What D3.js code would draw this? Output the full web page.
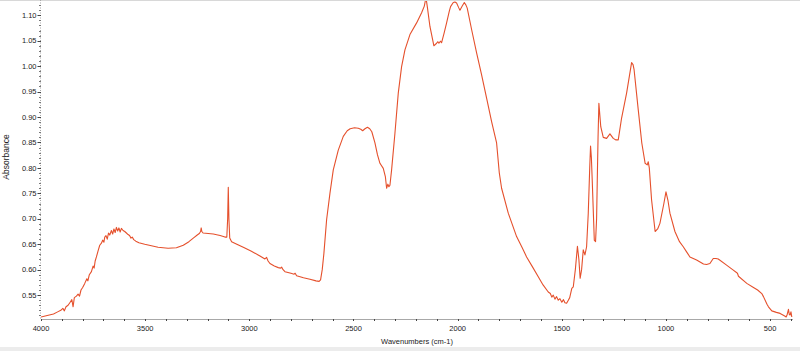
<!DOCTYPE html>
<html><head><meta charset="utf-8">
<script src="https://cdn.jsdelivr.net/npm/d3@7"></script>
<style>body{margin:0;background:#fff}svg{display:block}</style>
</head><body>
<svg id="c" width="800" height="351"></svg>
<script>
const wavenumbers = [4000,3980,3960,3940,3920,3905,3895,3888,3880,3870,3860,3852,3846,3840,3830,3822,3815,3808,3800,3790,3780,3775,3768,3758,3750,3745,3740,3734,3726,3718,3710,3704,3698,3694,3688,3682,3676,3670,3662,3656,3650,3644,3638,3632,3626,3620,3614,3606,3598,3590,3582,3575,3568,3562,3555,3545,3530,3502,3470,3438,3390,3350,3317,3290,3269,3250,3240,3234,3231,3228,3222,3173,3140,3117,3108,3104,3101,3098,3094,3085,3060,3029,2990,2949,2925,2917,2910,2901,2880,2861,2850,2845,2838,2829,2800,2785,2780,2773,2740,2709,2680,2665,2658,2650,2642,2629,2613,2597,2573,2549,2530,2516,2495,2477,2465,2456,2445,2433,2422,2412,2397,2385,2373,2357,2347,2341,2335,2330,2325,2320,2317,2301,2285,2269,2253,2229,2197,2173,2160,2152,2145,2133,2114,2101,2095,2090,2082,2077,2065,2053,2040,2034,2021,2013,2005,1995,1989,1978,1968,1960,1954,1933,1909,1885,1861,1837,1813,1800,1789,1757,1717,1690,1669,1640,1613,1590,1565,1555,1548,1541,1533,1525,1517,1509,1500,1492,1485,1477,1470,1462,1452,1445,1435,1425,1418,1412,1405,1397,1389,1381,1373,1366,1362,1358,1354,1344,1338,1333,1330,1326,1322,1313,1301,1285,1269,1253,1240,1229,1213,1189,1165,1158,1153,1133,1116,1100,1090,1085,1080,1069,1052,1040,1029,1010,1000,990,981,957,935,917,901,885,853,820,805,789,773,760,749,709,680,660,656,652,612,580,560,540,532,515,508,492,470,452,430,423,418,412,408,404,400,396];
const absorbance = [.507,.509,.511,.513,.517,.520,.524,.519,.527,.530,.536,.541,.527,.545,.548,.552,.548,.560,.565,.573,.582,.578,.590,.596,.607,.603,.617,.625,.637,.648,.652,.658,.654,.664,.667,.660,.672,.668,.677,.670,.680,.673,.683,.676,.682,.674,.681,.677,.675,.672,.669,.667,.662,.664,.659,.656,.653,.650,.647,.644,.642,.643,.648,.655,.662,.668,.671,.675,.682,.675,.672,.670,.667,.664,.664,.700,.762,.700,.662,.655,.650,.644,.636,.627,.621,.624,.617,.612,.607,.604,.603,.605,.600,.596,.593,.591,.593,.588,.584,.581,.578,.577,.580,.600,.632,.698,.750,.796,.835,.862,.873,.877,.879,.878,.876,.873,.877,.880,.877,.871,.849,.826,.809,.799,.783,.760,.768,.763,.766,.785,.796,.868,.947,.999,1.032,1.062,1.085,1.105,1.118,1.135,1.115,1.078,1.040,1.045,1.048,1.045,1.049,1.046,1.065,1.085,1.108,1.117,1.125,1.126,1.124,1.115,1.110,1.118,1.125,1.120,1.114,1.072,1.026,.983,.937,.891,.849,.790,.760,.711,.665,.643,.625,.605,.586,.570,.556,.553,.546,.550,.542,.547,.540,.543,.536,.541,.535,.534,.539,.545,.563,.566,.600,.646,.620,.583,.600,.639,.629,.645,.711,.800,.843,.820,.776,.658,.655,.700,.770,.860,.927,.881,.860,.858,.867,.858,.855,.855,.898,.947,1.007,1.003,.993,.914,.849,.809,.806,.812,.800,.737,.675,.680,.691,.730,.753,.735,.711,.675,.655,.645,.635,.625,.619,.611,.610,.612,.622,.622,.621,.609,.600,.594,.592,.587,.573,.565,.560,.553,.547,.532,.527,.519,.516,.514,.509,.507,.512,.522,.512,.511,.517,.507];
const xMajorTicks = [4000,3500,3000,2500,2000,1500,1000,500];
const yMajorTicks = [0.55,0.60,0.65,0.70,0.75,0.80,0.85,0.90,0.95,1.00,1.05,1.10];
const xTitle = "Wavenumbers (cm-1)";
const yTitle = "Absorbance";

const svg = d3.select("#c");
const x = d3.scaleLinear().domain([4000, 395]).range([41, 792]);
const y = d3.scaleLinear().domain([0.503, 1.13]).range([319, 0]);
const font = "'Liberation Sans', Arial, sans-serif";

// frame bits
svg.append("line").attr("x1",0).attr("x2",800).attr("y1",0.5).attr("y2",0.5).attr("stroke","#d8d8d8");
svg.append("rect").attr("x",0).attr("y",347).attr("width",800).attr("height",4).attr("fill","#ececec");

const clip = svg.append("clipPath").attr("id","cp").append("rect").attr("x",41).attr("y",1).attr("width",752).attr("height",318);

// minor ticks
const xMinor = d3.range(4000, 395, -100);
const yMinor = d3.range(0.51, 1.13, 0.01);

// x axis
const gx = svg.append("g");
gx.append("line").attr("x1",41).attr("x2",793).attr("y1",319.5).attr("y2",319.5).attr("stroke","#a8a8a8");
gx.selectAll("line.mn").data(xMinor).join("line").attr("class","mn")
  .attr("x1",d=>Math.round(x(d))+0.5).attr("x2",d=>Math.round(x(d))+0.5).attr("y1",319).attr("y2",321).attr("stroke","#444");
gx.selectAll("text").data(xMajorTicks).join("text")
  .attr("x",d=>x(d)).attr("y",331).attr("text-anchor","middle")
  .attr("font-family",font).attr("font-size","7.5px").attr("fill","#222").text(d=>d);

// y axis
const gy = svg.append("g");
gy.append("line").attr("x1",40.5).attr("x2",40.5).attr("y1",0).attr("y2",319).attr("stroke","#a8a8a8").attr("stroke-dasharray","1,1.5");
gy.selectAll("line.mn").data(yMinor).join("line").attr("class","mn")
  .attr("x1",39).attr("x2",41).attr("y1",d=>Math.round(y(d))+0.5).attr("y2",d=>Math.round(y(d))+0.5).attr("stroke","#777");
gy.selectAll("line.mj").data(yMajorTicks).join("line").attr("class","mj")
  .attr("x1",37.5).attr("x2",41).attr("y1",d=>Math.round(y(d))+0.5).attr("y2",d=>Math.round(y(d))+0.5).attr("stroke","#444");
gy.selectAll("text").data(yMajorTicks).join("text")
  .attr("x",36.5).attr("y",d=>y(d)+2.7).attr("text-anchor","end")
  .attr("font-family",font).attr("font-size","7.5px").attr("fill","#222").text(d=>d.toFixed(2));

// titles
svg.append("text").attr("x",417).attr("y",344).attr("text-anchor","middle")
  .attr("font-family",font).attr("font-size","7.5px").attr("fill","#222").text(xTitle);
svg.append("text").attr("transform","translate(9,157) rotate(-90)").attr("text-anchor","middle")
  .attr("font-family",font).attr("font-size","8.5px").attr("fill","#222").text(yTitle);

// spectrum
const data = wavenumbers.map((w,i)=>({w, a: absorbance[i]}));
svg.append("path").datum(data).attr("clip-path","url(#cp)")
  .attr("fill","none").attr("stroke","#e5502c").attr("stroke-width",1.1).attr("stroke-linejoin","round")
  .attr("d", d3.line().x(d=>x(d.w)).y(d=>y(d.a)));
</script>
</body></html>
